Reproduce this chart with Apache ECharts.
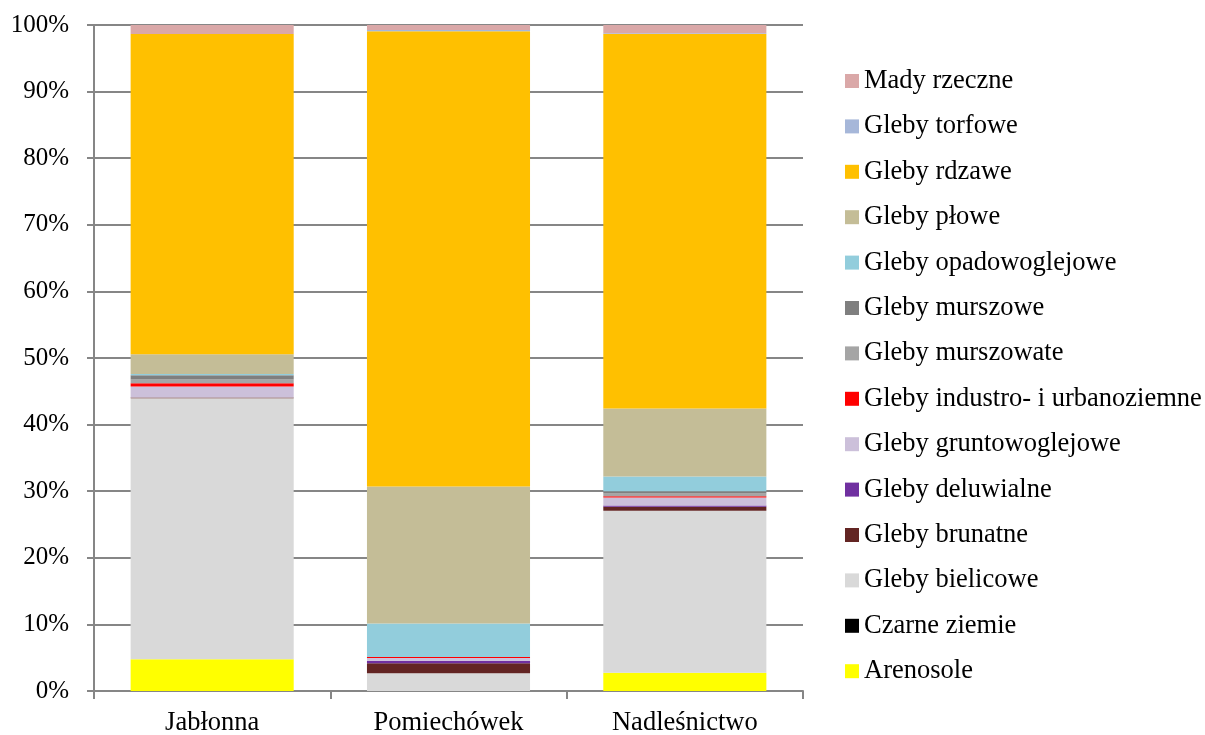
<!DOCTYPE html>
<html>
<head>
<meta charset="utf-8">
<script src="https://cdn.jsdelivr.net/npm/echarts@6/dist/echarts.min.js"></script>
<style>
html, body { margin: 0; padding: 0; background: #fff; }
#chart { width: 1205px; height: 735px; }
</style>
</head>
<body>
<div id="chart"></div>
<script>
// categories (stacked bottom to top in series order)
const categories = ["Jabłonna", "Pomiechówek", "Nadleśnictwo"];
const seriesNames = [
    "Arenosole",
    "Czarne ziemie",
    "Gleby bielicowe",
    "Gleby brunatne",
    "Gleby deluwialne",
    "Gleby gruntowoglejowe",
    "Gleby industro- i urbanoziemne",
    "Gleby murszowate",
    "Gleby murszowe",
    "Gleby opadowoglejowe",
    "Gleby płowe",
    "Gleby rdzawe",
    "Gleby torfowe",
    "Mady rzeczne",
];
const seriesColors = [
    "#FFFF00", "#000000", "#D9D9D9", "#632523", "#7030A0", "#CCC0DA", "#FF0000",
    "#A5A5A5", "#7F7F7F", "#92CDDC", "#C4BD97", "#FFC000", "#A6B7D9", "#DAA8A8",
];
// percent shares per category: [Jabłonna, Pomiechówek, Nadleśnictwo]
const arenosole = [4.76, 0, 2.75];
const czarneZiemie = [0, 0, 0];
const bielicowe = [39.2, 2.65, 24.3];
const brunatne = [0.1, 1.5, 0.6];
const deluwialne = [0, 0.4, 0.2];
const gruntowoglejowe = [1.65, 0.4, 1.2];
const industro = [0.5, 0.15, 0.2];
const murszowate = [0.55, 0, 0.4];
const murszowe = [0.65, 0, 0.35];
const opadowoglejowe = [0.2, 5.05, 2.2];
const plowe = [2.95, 20.55, 10.2];
const rdzawe = [48.1, 68.35, 56.25];
const torfowe = [0, 0.2, 0.1];
const madyRzeczne = [1.35, 0.75, 1.25];
const yTicks = [0, 10, 20, 30, 40, 50, 60, 70, 80, 90, 100];

const seriesValues = [
    arenosole, czarneZiemie, bielicowe, brunatne, deluwialne, gruntowoglejowe, industro,
    murszowate, murszowe, opadowoglejowe, plowe, rdzawe, torfowe, madyRzeczne,
];

const axisGray = "#868686";
const font = "'Liberation Serif', 'Times New Roman', serif";

const chart = echarts.init(document.getElementById("chart"), null, { renderer: "canvas" });

const series = seriesNames.map((name, i) => ({
    name: name,
    type: "bar",
    stack: "total",
    barWidth: "69%",
    itemStyle: { color: seriesColors[i] },
    emphasis: { disabled: true },
    data: seriesValues[i],
}));

const option = {
    animation: false,
    textStyle: { fontFamily: font },
    grid: {
        left: 94,
        right: 402,
        top: 25,
        bottom: 44,
        containLabel: false,
        outerBoundsMode: "none",
    },
    legend: {
        orient: "vertical",
        left: 840,
        top: 62.5,
        itemWidth: 14,
        itemHeight: 14,
        itemGap: 18.4,
        icon: "rect",
        data: seriesNames.slice().reverse(),
        textStyle: {
            fontFamily: font,
            fontSize: 26.5,
            lineHeight: 27,
            color: "#000",
        },
        selectedMode: false,
    },
    xAxis: {
        type: "category",
        data: categories,
        axisLine: { lineStyle: { color: axisGray, width: 2 } },
        axisTick: { show: true, length: 8, lineStyle: { color: axisGray, width: 2 } },
        axisLabel: {
            fontFamily: font,
            fontSize: 26.5,
            color: "#000",
            margin: 19,
        },
    },
    yAxis: {
        type: "value",
        min: yTicks[0],
        max: yTicks[yTicks.length - 1],
        interval: 10,
        axisLine: { show: true, lineStyle: { color: axisGray, width: 2 } },
        axisTick: { show: true, length: 7, lineStyle: { color: axisGray, width: 2 } },
        splitLine: { show: true, lineStyle: { color: axisGray, width: 2 } },
        axisLabel: {
            fontFamily: font,
            fontSize: 25,
            color: "#000",
            margin: 25,
            formatter: (v) => v + "%",
        },
    },
    series: series,
};

chart.setOption(option);
</script>
</body>
</html>
